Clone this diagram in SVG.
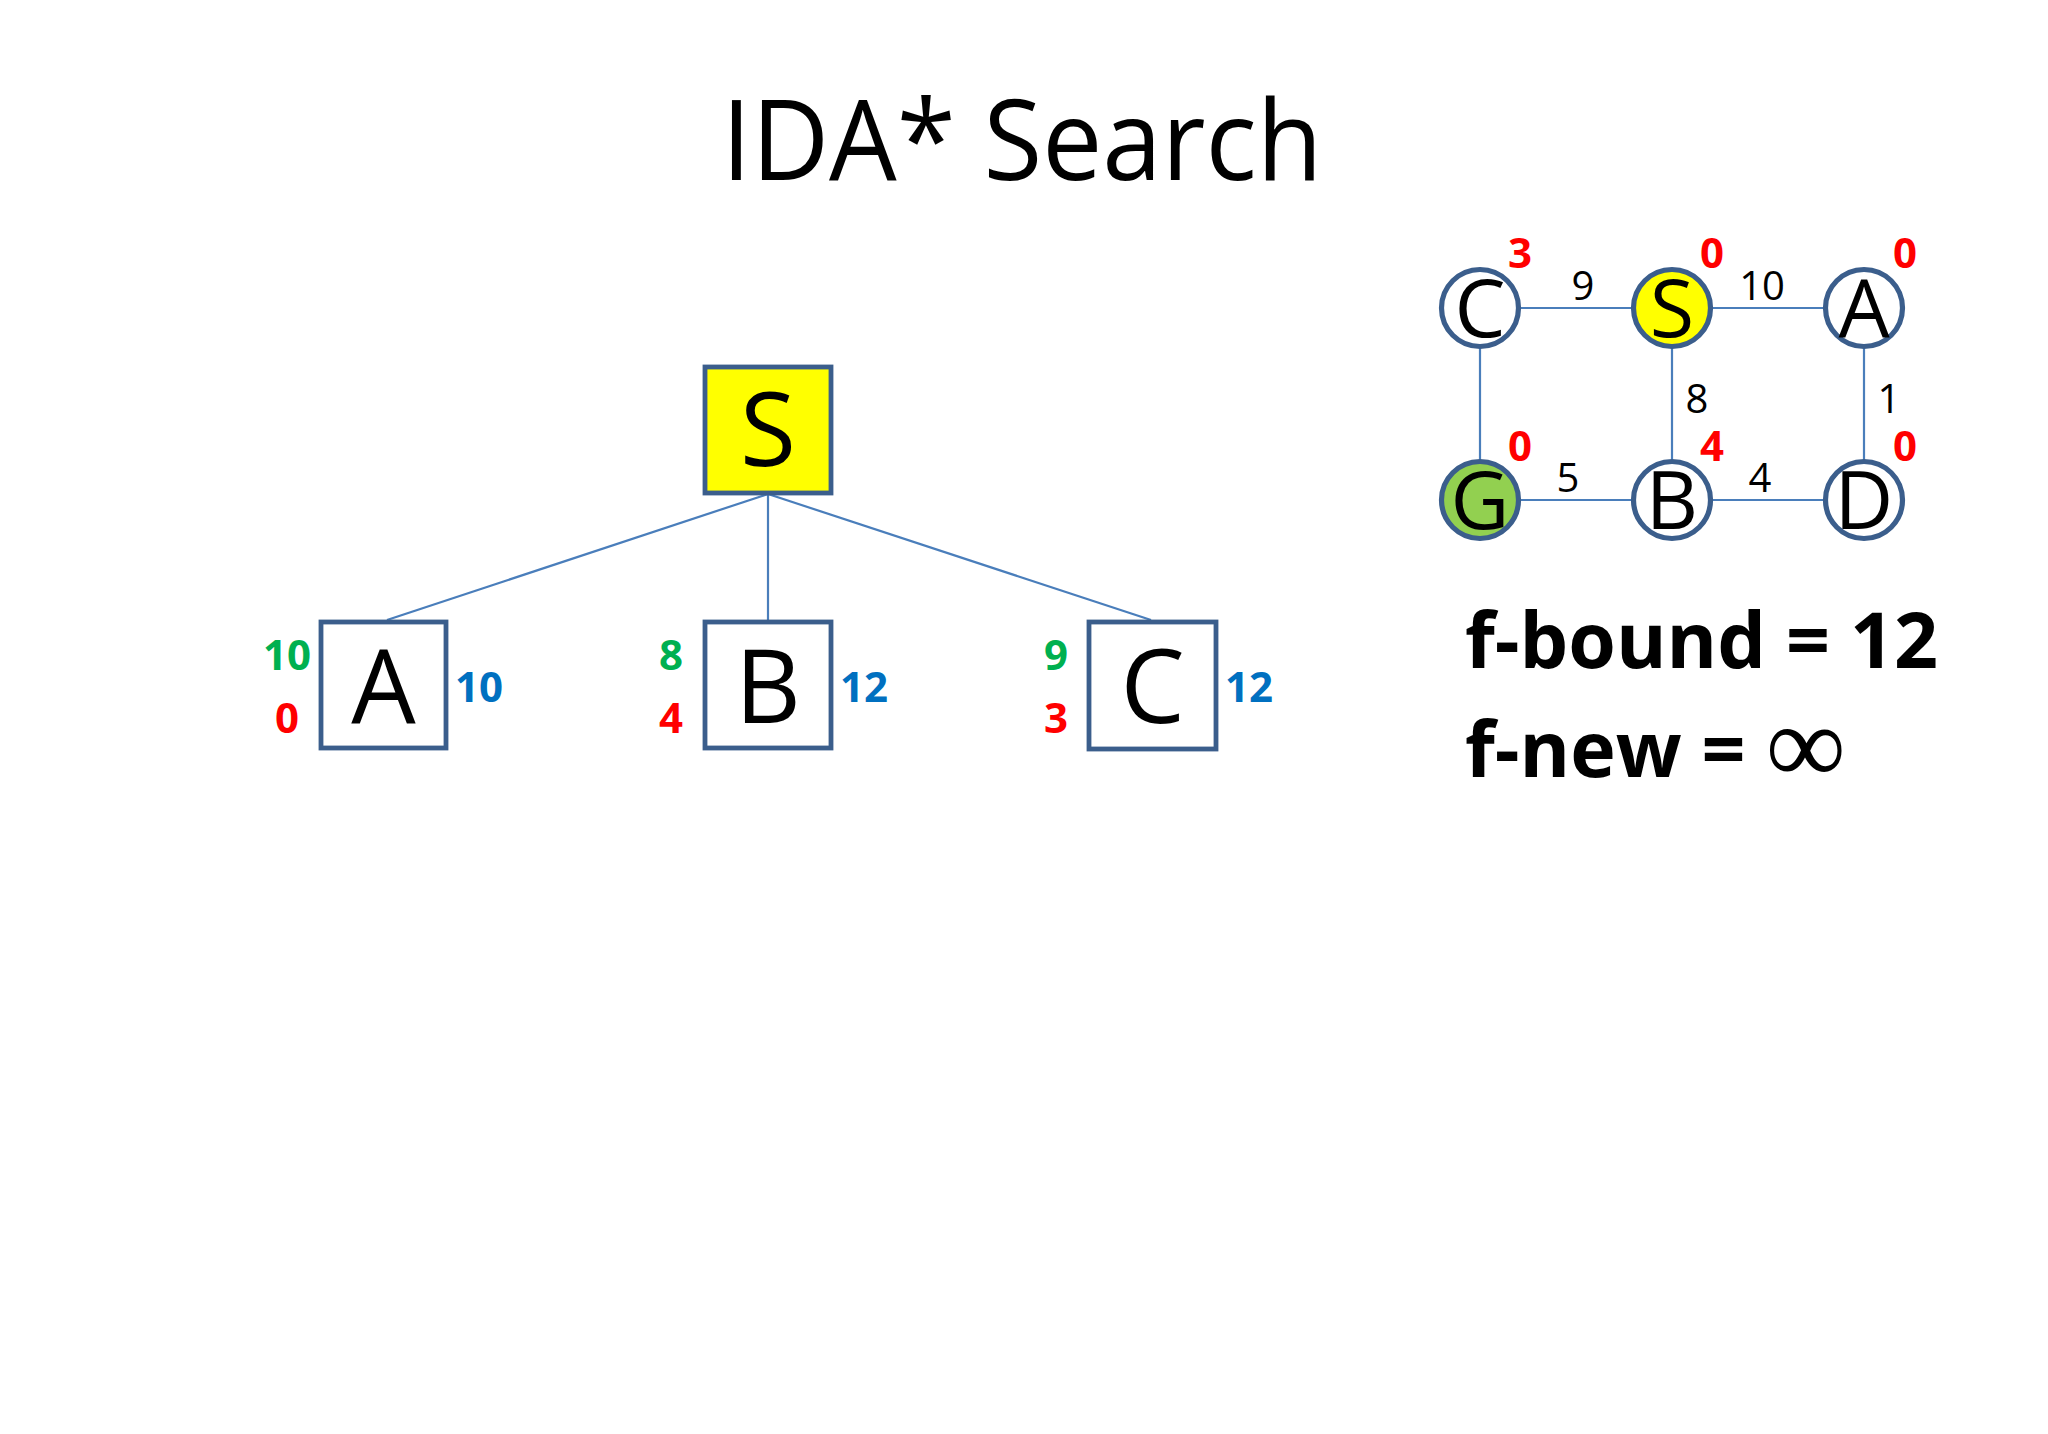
<svg xmlns="http://www.w3.org/2000/svg" width="2048" height="1434" viewBox="0 0 2048 1434">
<style>
.box{fill:#FFFFFF;stroke:#3B5E8C;stroke-width:4.8}
.circ{fill:#FFFFFF;stroke:#3B5E8C;stroke-width:5.2}
.edge{stroke:#4A7EBB;stroke-width:2.2;fill:none}
.big{font-family:"Open Sans","Liberation Sans",sans-serif;fill:#000;text-anchor:middle}
.w{font-family:"Open Sans","Liberation Sans",sans-serif;font-size:40px;fill:#000;text-anchor:middle}
.h{font-family:"Open Sans","Liberation Sans",sans-serif;font-size:42px;font-weight:bold;fill:#FF0000;text-anchor:middle}
.g{font-family:"Open Sans","Liberation Sans",sans-serif;font-size:42px;font-weight:bold;fill:#00B050;text-anchor:middle}
.r{font-family:"Open Sans","Liberation Sans",sans-serif;font-size:42px;font-weight:bold;fill:#FF0000;text-anchor:middle}
.b{font-family:"Open Sans","Liberation Sans",sans-serif;font-size:42px;font-weight:bold;fill:#0070C0;text-anchor:start}
.info{font-family:"Open Sans","Liberation Sans",sans-serif;font-size:77px;font-weight:bold;fill:#000}
</style>
<rect width="2048" height="1434" fill="#FFFFFF"/>
<text class="big" x="1022" y="180" font-size="111" textLength="601" lengthAdjust="spacingAndGlyphs">IDA* Search</text>

<g id="connectors">
  <line class="edge" x1="768" y1="494" x2="387" y2="620"/>
  <line class="edge" x1="768" y1="494" x2="768" y2="620"/>
  <line class="edge" x1="768" y1="494" x2="1151" y2="620"/>
  <line class="edge" x1="1519" y1="308" x2="1633" y2="308"/>
  <line class="edge" x1="1711" y1="308" x2="1825" y2="308"/>
  <line class="edge" x1="1480" y1="347" x2="1480" y2="461"/>
  <line class="edge" x1="1672" y1="347" x2="1672" y2="461"/>
  <line class="edge" x1="1864" y1="347" x2="1864" y2="461"/>
  <line class="edge" x1="1519" y1="500" x2="1633" y2="500"/>
  <line class="edge" x1="1711" y1="500" x2="1825" y2="500"/>
  <text class="w" x="1583" y="300">9</text>
  <text class="w" x="1762" y="300">10</text>
  <text class="w" x="1697" y="413">8</text>
  <text class="w" x="1889" y="413">1</text>
  <text class="w" x="1568" y="492">5</text>
  <text class="w" x="1760" y="492">4</text>
</g>

<g id="tree-S">
  <rect class="box" x="705" y="367" width="126" height="126" style="fill:#FFFF00"/>
  <text class="big" x="768" y="466" font-size="102">S</text>
</g>
<g id="tree-A">
  <rect class="box" x="321" y="622" width="125" height="126"/>
  <text class="big" x="383.5" y="723" font-size="102">A</text>
  <text class="g" x="287" y="670">10</text>
  <text class="r" x="287" y="733">0</text>
  <text class="b" x="455" y="702">10</text>
</g>
<g id="tree-B">
  <rect class="box" x="705" y="622" width="126" height="126"/>
  <text class="big" x="768" y="723" font-size="102">B</text>
  <text class="g" x="671" y="670">8</text>
  <text class="r" x="671" y="733">4</text>
  <text class="b" x="840" y="702">12</text>
</g>
<g id="tree-C">
  <rect class="box" x="1089" y="622" width="127" height="127"/>
  <text class="big" x="1152.5" y="723" font-size="102">C</text>
  <text class="g" x="1056" y="670">9</text>
  <text class="r" x="1056" y="733">3</text>
  <text class="b" x="1225" y="702">12</text>
</g>

<g id="graph-C">
  <circle class="circ" cx="1480" cy="308" r="38.5"/>
  <text class="big" x="1480" y="337" font-size="81">C</text>
  <text class="h" x="1520" y="268">3</text>
</g>
<g id="graph-S">
  <circle class="circ" cx="1672" cy="308" r="38.5" style="fill:#FFFF00"/>
  <text class="big" x="1672" y="337" font-size="81">S</text>
  <text class="h" x="1712" y="268">0</text>
</g>
<g id="graph-A">
  <circle class="circ" cx="1864" cy="308" r="38.5"/>
  <text class="big" x="1864" y="337" font-size="81">A</text>
  <text class="h" x="1905" y="268">0</text>
</g>
<g id="graph-G">
  <circle class="circ" cx="1480" cy="500" r="38.5" style="fill:#92D050"/>
  <text class="big" x="1480" y="529" font-size="81">G</text>
  <text class="h" x="1520" y="461">0</text>
</g>
<g id="graph-B">
  <circle class="circ" cx="1672" cy="500" r="38.5"/>
  <text class="big" x="1672" y="529" font-size="81">B</text>
  <text class="h" x="1712" y="461">4</text>
</g>
<g id="graph-D">
  <circle class="circ" cx="1864" cy="500" r="38.5"/>
  <text class="big" x="1864" y="529" font-size="81">D</text>
  <text class="h" x="1905" y="461">0</text>
</g>

<g id="info">
  <text class="info" x="1465" y="668" textLength="473" lengthAdjust="spacingAndGlyphs">f-bound = 12</text>
  <text class="info" x="1465" y="777">f-new = <tspan font-family="'Liberation Serif',serif" font-weight="normal" font-size="112" dy="6">∞</tspan></text>
</g>
</svg>
